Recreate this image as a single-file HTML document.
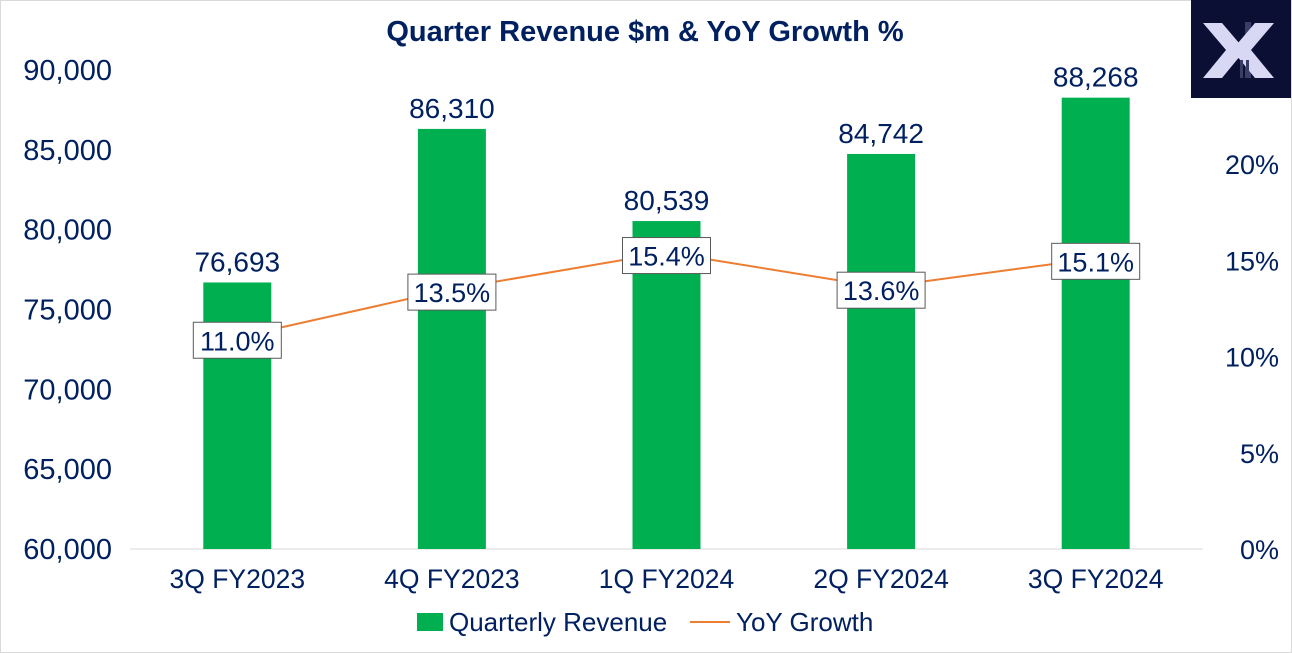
<!DOCTYPE html>
<html><head><meta charset="utf-8"><style>
body{margin:0;background:#fff;}
svg{display:block;font-family:"Liberation Sans",Arial,sans-serif;}
</style></head><body>
<svg id="chart" width="1292" height="653" viewBox="0 0 1292 653">
<rect x="0.5" y="0.5" width="1291" height="652" fill="#fff" stroke="#d9d9d9"/>
<text x="645" y="41" text-anchor="middle" font-size="29" font-weight="bold" fill="#002060">Quarter Revenue $m &amp; YoY Growth %</text>
<g>
<rect x="1191" y="0" width="100" height="98" fill="#0b0f33"/>
<rect x="1245" y="22" width="6" height="56" fill="#3a3d66"/>
<polygon points="1203,23 1222,23 1245,50 1222,78 1203,78 1226,50" fill="#d8d8f5"/>
<polygon points="1274,23 1255,23 1232,50 1255,78 1274,78 1251,50" fill="#d8d8f5"/>
<rect x="1240" y="60" width="3" height="18" fill="#3a3d66"/>
<rect x="1246" y="60" width="3" height="18" fill="#3a3d66"/>
</g>
<g id="axes"></g>
<g id="marks"></g>
<g>
<rect x="417" y="613" width="26" height="18" fill="#00b050"/>
<text x="449" y="631" font-size="26" fill="#002060">Quarterly Revenue</text>
<line x1="690" y1="622" x2="730" y2="622" stroke="#ed7d31" stroke-width="2"/>
<text x="736" y="631" font-size="26" fill="#002060">YoY Growth</text>
</g>
</svg>
<script>
const categories=["3Q FY2023","4Q FY2023","1Q FY2024","2Q FY2024","3Q FY2024"];
const revenue=[76693,86310,80539,84742,88268];
const growth=[11.0,13.5,15.4,13.6,15.1];
const leftTicks=[60000,65000,70000,75000,80000,85000,90000];
const rightTicks=[0,5,10,15,20];
const NS="http://www.w3.org/2000/svg";
const plotL=130,plotR=1203,yBase=549;
const yL=v=>549-(v-60000)/30000*479;
const yR=v=>549-v/20*385;
const xC=i=>plotL+(plotR-plotL)/categories.length*(i+0.5);
function mk(tag,attrs,parent,text){const e=document.createElementNS(NS,tag);for(const k in attrs)e.setAttribute(k,attrs[k]);if(text!==undefined)e.textContent=text;parent.appendChild(e);return e;}
const axes=document.getElementById('axes'),marks=document.getElementById('marks');
const base=mk('line',{x1:plotL,x2:plotR,y1:yBase,y2:yBase,stroke:'#d9d9d9','stroke-width':1},axes);


leftTicks.forEach(v=>{const t=mk('text',{x:112,y:yL(v)+10,'text-anchor':'end','font-size':29,fill:'#002060'},axes,v.toLocaleString('en-US'));

});
rightTicks.forEach(v=>{const t=mk('text',{x:1279,y:yR(v)+10,'text-anchor':'end','font-size':27,fill:'#002060'},axes,v+'%');

});
categories.forEach((c,i)=>{const t=mk('text',{x:xC(i),y:588,'text-anchor':'middle','font-size':26.5,fill:'#002060'},axes,c);

});
revenue.forEach((v,i)=>{const b=mk('rect',{x:xC(i)-34,y:yL(v),width:68,height:yBase-yL(v),fill:'#00b050'},marks);


const t=mk('text',{x:xC(i),y:yL(v)-11,'text-anchor':'middle','font-size':28,fill:'#002060'},marks,v.toLocaleString('en-US'));

});
const pl=mk('polyline',{points:growth.map((g,i)=>xC(i)+','+yR(g)).join(' '),fill:'none',stroke:'#ed7d31','stroke-width':2},marks);


growth.forEach((g,i)=>{const y=yR(g)+3;const r=mk('rect',{x:xC(i)-44,y:y-18,width:88,height:36,fill:'#fff',stroke:'#595959','stroke-width':1},marks);


const t=mk('text',{x:xC(i),y:y+10,'text-anchor':'middle','font-size':27,fill:'#002060'},marks,g.toFixed(1)+'%');

});
</script>
</body></html>
